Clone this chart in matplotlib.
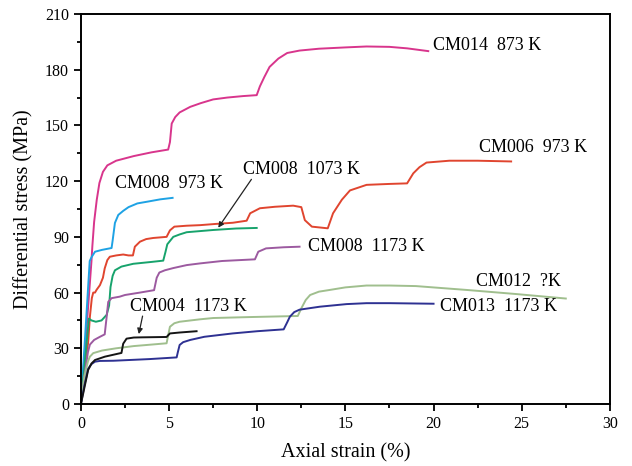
import matplotlib
matplotlib.use("Agg")
import matplotlib.pyplot as plt
from matplotlib.ticker import MultipleLocator

# stress-strain curves (strain %, stress MPa)
cm014_x = [0, 0.3, 0.6, 0.65, 0.75, 0.9, 1.05, 1.25, 1.5, 2.0, 3.0, 4.0, 4.95, 5.05, 5.15,
           5.35, 5.6, 6.2, 6.8, 7.5, 8.3, 9.2, 9.97, 10.15, 10.4, 10.7, 11.2, 11.7, 12.4,
           13.5, 15.0, 16.2, 17.5, 18.5, 19.7]
cm014_y = [0, 38, 77, 85, 98, 110, 119, 125, 128.5, 131, 133.5, 135.5, 137, 141, 151,
           154.5, 157, 160, 162, 164, 165, 165.8, 166.3, 171, 176, 181.5, 186, 189, 190.3,
           191.3, 192, 192.5, 192.3, 191.5, 190]

cm008_973_x = [0, 0.25, 0.5, 0.6, 0.8, 1.2, 1.74, 1.8, 1.93, 2.12, 2.4, 2.7, 3.2, 3.8, 4.5, 5.2]
cm008_973_y = [0, 38, 77, 79, 82, 83, 84, 88, 97.5, 101.8, 104, 106, 108, 109, 110.2, 111]

cm006_x = [0, 0.25, 0.41, 0.51, 0.62, 0.7, 0.8, 0.89, 1.08, 1.25, 1.35, 1.5, 1.64, 2.0, 2.4,
           2.7, 2.95, 3.06, 3.35, 3.7, 4.1, 4.86, 5.05, 5.3, 6.0, 6.75, 7.7, 8.62, 9.4, 9.6,
           10.15, 11.0, 12.04, 12.5, 12.7, 13.1, 14.0, 14.3, 14.8, 15.26, 16.2, 17.5, 18.5,
           18.85, 19.2, 19.6, 20.9, 22.5, 24.4]
cm006_y = [0, 22, 33, 47, 57, 60, 60, 61.5, 64, 68, 73, 77.5, 79.3, 80, 80.5,
           80, 80, 84.7, 87.4, 88.8, 89.4, 90, 93.5, 95.5, 96, 96.3, 97, 97.6, 98.7, 102.7,
           105.4, 106.2, 106.8, 106, 99, 95.5, 94.6, 102.7, 110, 115, 118, 118.5, 118.8,
           124.2, 127.5, 130, 131, 131, 130.6]

cm008_1073_x = [0, 0.25, 0.45, 0.6, 0.85, 1.17, 1.46, 1.6, 1.68, 1.8, 1.93, 2.3, 2.97, 4.0,
                4.67, 4.8, 4.9, 5.24, 5.6, 6.0, 7.5, 8.8, 9.97]
cm008_1073_y = [0, 25, 46, 45, 44.3, 45, 48, 53, 63, 69, 72, 74, 75.5, 76.5,
                77.2, 82, 86, 90, 91.3, 92.5, 93.7, 94.5, 94.8]

cm008_1173_x = [0, 0.2, 0.4, 0.51, 0.75, 1.08, 1.35, 1.45, 1.55, 1.74, 2.2, 2.5, 3.35, 4.15,
                4.3, 4.45, 4.76, 5.24, 6.0, 6.75, 8.0, 9.87, 10.06, 10.5, 11.5, 12.4]
cm008_1173_y = [0, 15, 28, 32, 34.5, 36.2, 37.5, 46, 55, 57, 57.8, 58.7, 60, 61.3,
                68, 70.8, 72, 73.2, 74.8, 75.7, 77, 77.9, 82, 83.8, 84.4, 84.7]

cm012_x = [0, 0.2, 0.4, 0.51, 0.7, 1.2, 2.0, 3.0, 4.0, 4.86, 4.95, 5.05, 5.3, 5.6, 6.75, 7.5,
           9.5, 12.3, 12.5, 12.75, 13.0, 13.5, 14.1, 15.0, 16.2, 17.5, 19.0, 21.9, 24.7, 27.5]
cm012_y = [0, 15, 23, 25.5, 27.4, 28.8, 30, 31.2, 32, 32.7, 37, 41.6, 43.5, 44.3, 45.6, 46.3,
           46.8, 47.4, 51.5, 56, 58.7, 60.5, 61.4, 62.8, 63.8, 63.8, 63.5, 61.4, 59.2, 56.8]

cm013_x = [0, 0.2, 0.41, 0.6, 0.8, 1.08, 1.84, 3.9, 5.43, 5.5, 5.6, 5.8, 6.2, 7.0, 8.6, 10.0,
           11.5, 11.7, 11.85, 12.1, 12.4, 13.55, 15.07, 16.2, 17.5, 20.0]
cm013_y = [0, 10, 19, 21.5, 22.8, 23.2, 23.3, 24.2, 25.1, 28, 31.8, 33.3, 34.5, 36.2, 38, 39.2,
           40.2, 44, 47, 49.5, 50.8, 52.4, 53.8, 54.3, 54.3, 54]

cm004_x = [0, 0.13, 0.27, 0.41, 0.6, 0.8, 1.36, 2.2, 2.3, 2.4, 2.59, 3.0, 3.44, 4.86, 5.05,
           5.6, 6.56]
cm004_y = [0, 5.7, 12, 18.3, 21.8, 23.7, 25.5, 27.3, 27.5, 32.5, 35.2, 35.8, 35.9, 36.1, 38,
           38.5, 39.2]

curves = [
    (cm014_x, cm014_y, "#d8358c"),
    (cm006_x, cm006_y, "#e0452f"),
    (cm008_973_x, cm008_973_y, "#1ea2e4"),
    (cm008_1073_x, cm008_1073_y, "#17a36c"),
    (cm008_1173_x, cm008_1173_y, "#9c5aa0"),
    (cm012_x, cm012_y, "#a0bf8e"),
    (cm013_x, cm013_y, "#2e3192"),
    (cm004_x, cm004_y, "#151515"),
]

plt.rcParams["font.family"] = ["Liberation Serif", "DejaVu Serif"]

fig = plt.figure(figsize=(6.32, 4.66), dpi=100)
ax = fig.add_axes([0.128, 0.133, 0.837, 0.837])

for xs, ys, col in curves:
    ax.plot(xs, ys, color=col, lw=1.4)

fs = 13
ax.text(19.97, 192.8, "CM014  873 K", fontsize=fs, va="center", ha="left")
ax.text(22.6, 137.9, "CM006  973 K", fontsize=fs, va="center", ha="left")
ax.text(1.93, 118.5, "CM008  973 K", fontsize=fs, va="center", ha="left")
ax.text(9.19, 126.5, "CM008  1073 K", fontsize=fs, va="center", ha="left")
ax.text(12.9, 85, "CM008  1173 K", fontsize=fs, va="center", ha="left")
ax.text(27.2, 65.9, "CM012  ?K", fontsize=fs, va="center", ha="right")
ax.text(20.36, 52.4, "CM013  1173 K", fontsize=fs, va="center", ha="left")
ax.text(2.78, 52.4, "CM004  1173 K", fontsize=fs, va="center", ha="left")

arrow = dict(arrowstyle="-|>", color="#222222", lw=0.9, mutation_scale=8)
ax.annotate("", xy=(7.7, 93.7), xytext=(9.76, 122.2), arrowprops=arrow)
ax.annotate("", xy=(3.25, 36.2), xytext=(3.53, 48.8), arrowprops=arrow)

ax.set_xlim(0, 30)
ax.set_ylim(0, 210)
ax.xaxis.set_major_locator(MultipleLocator(5))
ax.xaxis.set_minor_locator(MultipleLocator(2.5))
ax.yaxis.set_major_locator(MultipleLocator(30))
ax.yaxis.set_minor_locator(MultipleLocator(15))
ax.tick_params(which="both", direction="out", top=False, right=False, labelsize=11.5, width=1.3)
ax.tick_params(which="major", length=5)
ax.tick_params(which="minor", length=3)
for sp in ax.spines.values():
    sp.set_linewidth(1.4)

ax.set_xlabel("Axial strain (%)", fontsize=14.5, labelpad=8)
ax.set_ylabel("Differential stress (MPa)", fontsize=14.5, labelpad=8)

fig.savefig("out.png", dpi=100)
